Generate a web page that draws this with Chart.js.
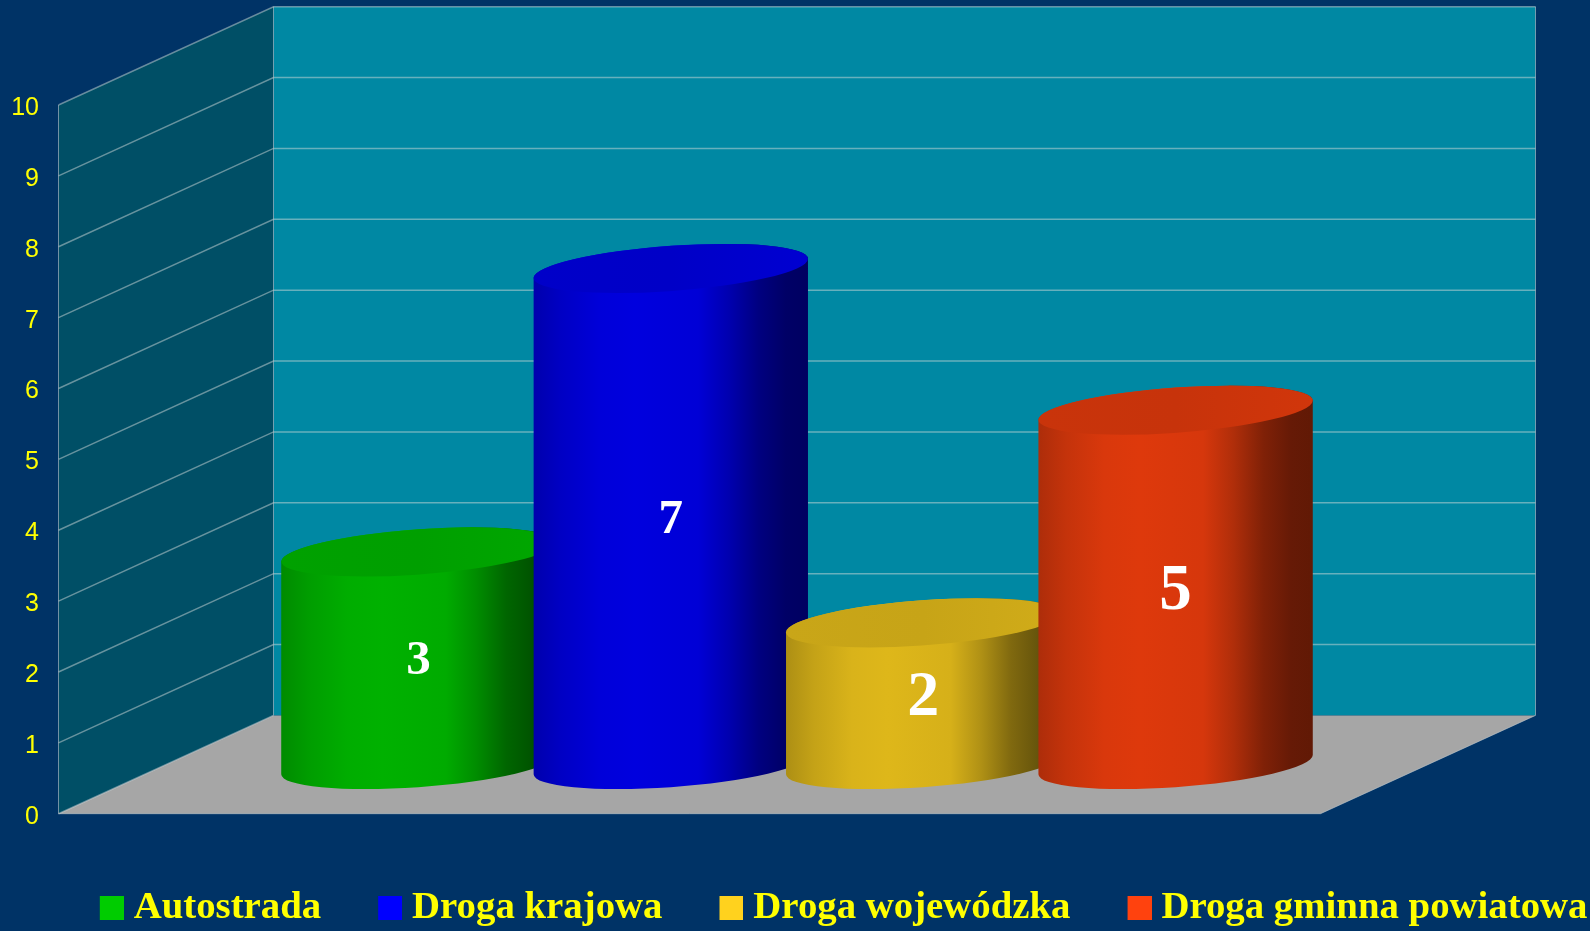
<!DOCTYPE html>
<html><head><meta charset="utf-8">
<style>html,body{margin:0;padding:0;background:#003366;overflow:hidden}canvas{display:block}</style>
<script src="https://cdn.jsdelivr.net/npm/chart.js@4"></script>
</head><body>
<div style="width:1590px;height:931px"><canvas id="c" width="1590" height="931"></canvas></div>
<script>
const categories = [''];
const seriesNames = ['Autostrada', 'Droga krajowa', 'Droga wojew\u00f3dzka', 'Droga gminna powiatowa'];
const seriesValues = [3, 7, 2, 5];
const seriesColors = ['#00CC00', '#0000FF', '#FFD21E', '#FF420E'];
const labelSizes = [49, 49, 64, 65];

const DEPTH = {x: 215, y: -98.3};
const bodyStops = [[0,.68],[.1,.77],[.24,.85],[.37,.87],[.6,.84],[.71,.69],[.82,.5],[.92,.4],[1,.38]];
function rgb(hex){return [1,3,5].map(i=>parseInt(hex.substr(i,2),16));}
function shade(c,f){return `rgb(${c.map(v=>Math.round(v*f)).join(',')})`;}

function boxFor(color){
  const k=document.createElement('canvas');k.width=88;k.height=24;
  const g=k.getContext('2d');g.fillStyle=color;g.fillRect(64,0,24,24);return k;
}

function arcPath(ctx,cx,cy,ax,bx,by,a0,a1){
  ctx.save();ctx.transform(ax,0,bx,by,cx,cy);ctx.arc(0,0,1,a0,a1,false);ctx.restore();
}

const scene = {
  id:'scene',
  beforeDraw(chart){
    const {ctx,chartArea:{left,right},scales:{y}}=chart;
    ctx.save();
    ctx.fillStyle='#003366';ctx.fillRect(0,0,chart.width,chart.height);
    const y0=y.getPixelForValue(y.min), y1=y.getPixelForValue(y.max);
    const dx=DEPTH.x, dy=DEPTH.y;
    const poly=(pts,fill)=>{ctx.beginPath();pts.forEach((p,i)=>i?ctx.lineTo(p[0],p[1]):ctx.moveTo(p[0],p[1]));ctx.closePath();ctx.fillStyle=fill;ctx.fill();};
    poly([[left,y1],[left+dx,y1+dy],[left+dx,y0+dy],[left,y0]],'#004F66');
    poly([[left+dx,y1+dy],[right+dx,y1+dy],[right+dx,y0+dy],[left+dx,y0+dy]],'#0088A3');
    poly([[left,y0],[left+dx,y0+dy],[right+dx,y0+dy],[right,y0]],'#A6A6A6');
    ctx.lineWidth=1.5;ctx.strokeStyle='rgba(205,215,215,.5)';
    y.ticks.forEach(t=>{
      const p=y.getPixelForValue(t.value);
      ctx.beginPath();ctx.moveTo(left,p);ctx.lineTo(left+dx,p+dy);
      if(t.value!==y.min)ctx.lineTo(right+dx,p+dy);
      ctx.stroke();
    });
    ctx.lineWidth=1;ctx.strokeStyle='rgba(190,200,205,.6)';
    ctx.beginPath();ctx.moveTo(left,y1);ctx.lineTo(left,y0);ctx.lineTo(right,y0);ctx.lineTo(right+dx,y0+dy);ctx.lineTo(right+dx,y1+dy);
    ctx.moveTo(left+dx,y1+dy);ctx.lineTo(left+dx,y0+dy);ctx.stroke();
    ctx.restore();
  },
  beforeDatasetsDraw(chart){
    const {ctx}=chart;
    chart.data.datasets.forEach((ds,i)=>{
      const el=chart.getDatasetMeta(i).data[0];
      const c=rgb(ds.backgroundColor);
      const ax=el.width/2, bx=DEPTH.x/4, by=DEPTH.y/4;
      const cx=el.x+DEPTH.x/2, top=el.y+DEPTH.y/2, base=el.base+DEPTH.y/2;
      const R=Math.hypot(ax,bx), t0=Math.atan2(bx,ax);
      ctx.save();
      const g=ctx.createLinearGradient(cx-R,0,cx+R,0);
      bodyStops.forEach(s=>g.addColorStop(s[0],shade(c,s[1])));
      ctx.beginPath();
      arcPath(ctx,cx,base,ax,bx,by,t0+Math.PI,t0+2*Math.PI);
      arcPath(ctx,cx,top,ax,bx,by,t0,t0+Math.PI);
      ctx.closePath();ctx.fillStyle=g;ctx.fill();
      const g2=ctx.createLinearGradient(cx-R,0,cx+R,0);
      g2.addColorStop(0,shade(c,.79));g2.addColorStop(.5,shade(c,.78));g2.addColorStop(1,shade(c,.82));
      ctx.beginPath();arcPath(ctx,cx,top,ax,bx,by,0,2*Math.PI);ctx.closePath();ctx.fillStyle=g2;ctx.fill();
      const size=labelSizes[i];
      ctx.fillStyle='#fff';ctx.textAlign='center';ctx.textBaseline='middle';
      ctx.font=`bold ${size}px "Liberation Serif"`;
      ctx.fillText(String(ds.data[0]),cx,(top+base)/2+size*.07);
      ctx.restore();
    });
    return false;
  }
};

new Chart(document.getElementById('c'),{
  type:'bar',
  data:{
    labels:categories,
    datasets:seriesNames.map((n,i)=>({label:n,data:[seriesValues[i]],backgroundColor:seriesColors[i],barPercentage:1,categoryPercentage:.8}))
  },
  options:{
    responsive:false,animation:false,
    layout:{padding:{top:105,left:0,right:0,bottom:-6}},
    plugins:{
      tooltip:{enabled:false},
      legend:{
        position:'bottom',align:'end',
        labels:{
          color:'#FFFF00',
          font:{family:'"Liberation Serif"',size:38.8,weight:'bold',lineHeight:1},
          padding:2.5,usePointStyle:true,pointStyleWidth:69,
          generateLabels(chart){
            return chart.data.datasets.map((d,i)=>({text:d.label,datasetIndex:i,fontColor:'#FFFF00',fillStyle:d.backgroundColor,strokeStyle:d.backgroundColor,lineWidth:0,pointStyle:boxFor(d.backgroundColor)}));
          }
        }
      }
    },
    scales:{
      x:{type:'category',grid:{display:false},border:{display:false},ticks:{display:false},afterFit(s){s.height=72;}},
      y:{
        type:'linear',position:'left',min:0,max:10,
        grid:{display:false,drawTicks:false},border:{display:false},
        ticks:{stepSize:1,color:'#FFFF00',padding:19.5,labelOffset:3,font:{family:'"Liberation Sans"',size:25}},
        afterFit(s){s.width=58.5;}
      },
      pad:{type:'linear',position:'right',grid:{display:false,drawTicks:false},border:{display:false},ticks:{display:false},afterFit(s){s.width=269.5;}}
    }
  },
  plugins:[scene]
});
</script>
</body></html>
